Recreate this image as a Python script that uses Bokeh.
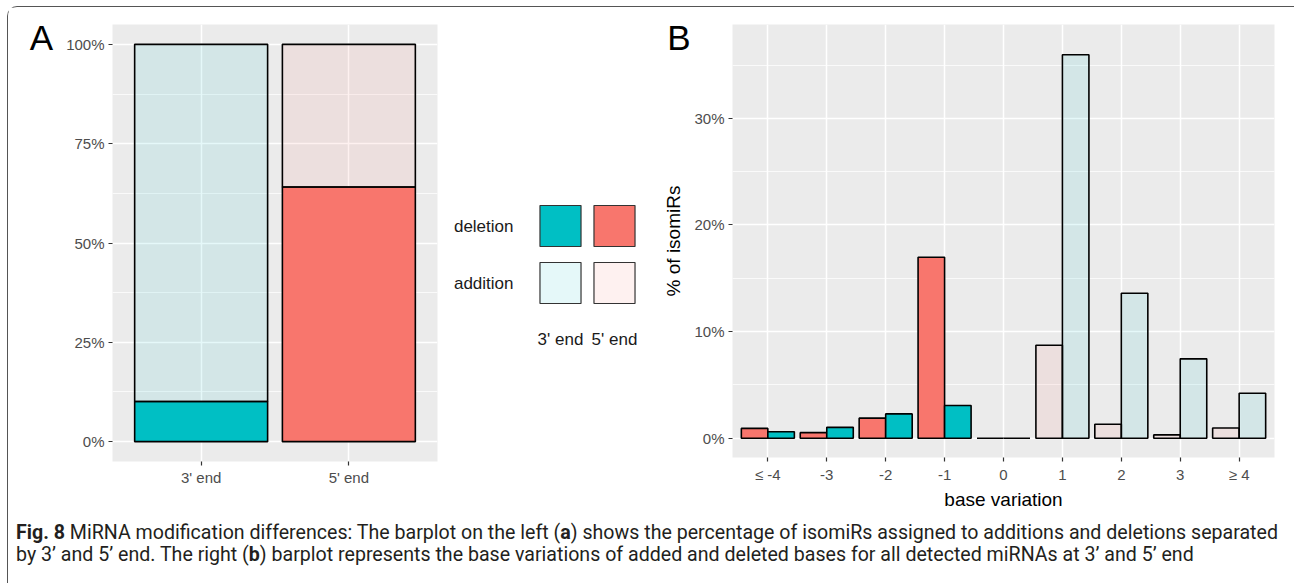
import numpy as np
from bokeh.plotting import figure
from bokeh.models import (Range1d, FixedTicker, NumeralTickFormatter, PrintfTickFormatter,
                          Div, FactorRange, LinearAxis)
from bokeh.layouts import row, column
from bokeh.embed import file_html
from bokeh.resources import INLINE

# ---------------- data ----------------
ends = ["3' end", "5' end"]
end_colors = ["#00BFC4", "#F8766D"]
deletion_pct = [10.1, 64.1]
addition_pct = [89.9, 35.9]

legend_rows = ["addition", "deletion"]

base_variation = ["≤ -4", "-3", "-2", "-1", "0", "1", "2", "3", "≥ 4"]
variation_type = ["deletion", "deletion", "deletion", "deletion", "none",
                  "addition", "addition", "addition", "addition"]
pct_5prime = [0.92, 0.52, 1.88, 16.97, 0.0, 8.72, 1.31, 0.31, 0.96]
pct_3prime = [0.60, 1.02, 2.28, 3.06, 0.0, 35.96, 13.60, 7.44, 4.22]

panel_a_ticks = [0, 0.25, 0.5, 0.75, 1.0]
panel_b_ticks = [0, 10, 20, 30]

caption_html = ('<b>Fig. 8</b> MiRNA modification differences: The barplot on the left (<b>a</b>) '
                'shows the percentage of isomiRs assigned to additions and deletions separated<br>'
                'by 3’ and 5’ end. The right (<b>b</b>) barplot represents the base variations of '
                'added and deleted bases for all detected miRNAs at 3’ and 5’ end')

FONT = "Liberation Sans"
PANEL_BG = "#EBEBEB"
TICK_COL = "#4D4D4D"
BAR_LW = 1.6


def style_axes(p, tick_size="15px"):
    for ax in p.axis:
        ax.axis_line_color = None
        ax.major_tick_line_color = "#333333"
        ax.major_tick_line_width = 1.2
        ax.major_tick_out = 4
        ax.major_tick_in = 0
        ax.minor_tick_line_color = None
        ax.major_label_text_font = FONT
        ax.major_label_text_font_size = tick_size
        ax.major_label_text_color = TICK_COL
        ax.axis_label_text_font = FONT
        ax.axis_label_text_font_style = "normal"
        ax.axis_label_text_font_size = "19px"
        ax.axis_label_text_color = "black"
    p.grid.grid_line_color = "white"
    p.grid.grid_line_width = 1.5
    p.ygrid.minor_grid_line_color = "white"
    p.ygrid.minor_grid_line_width = 0.75


def panel_letter(ax, letter, standoff):
    # leading blank line pushes the letter down from the frame top
    ax.axis_label = "\n" + letter
    ax.axis_label_orientation = "horizontal"
    ax.axis_label_text_font_size = "35px"
    ax.axis_label_text_line_height = 0.69
    ax.axis_label_standoff = standoff
    for v in ("end", "right", "top"):
        try:
            ax.axis_label_align = v
            break
        except Exception:
            pass


# ---------------- panel A ----------------
pos_a = np.arange(1, len(ends) + 1)
del_top = np.array(deletion_pct) / 100.0
add_top = (np.array(deletion_pct) + np.array(addition_pct)) / 100.0

pA = figure(output_backend="svg", toolbar_location=None, frame_align=False,
            frame_width=325, frame_height=437,
            min_border_left=104, min_border_right=9, min_border_top=17, min_border_bottom=58,
            x_range=Range1d(0.4, len(ends) + 0.6), y_range=Range1d(-0.05, 1.05),
            background_fill_color=PANEL_BG, border_fill_color="white", outline_line_color=None)
pA.vbar(x=pos_a, width=0.9, bottom=0, top=del_top, fill_color=end_colors,
        line_color="black", line_width=BAR_LW)
pA.vbar(x=pos_a, width=0.9, bottom=del_top, top=add_top, fill_color=end_colors, fill_alpha=0.1,
        line_color="black", line_width=BAR_LW)
pA.xaxis.ticker = FixedTicker(ticks=list(pos_a))
pA.xaxis.major_label_overrides = {int(i): e for i, e in zip(pos_a, ends)}
pA.yaxis.ticker = FixedTicker(ticks=panel_a_ticks,
                              minor_ticks=[0.125, 0.375, 0.625, 0.875])
pA.yaxis.formatter = NumeralTickFormatter(format="0%")
style_axes(pA)
pA.xaxis.major_label_standoff = 3
pA.yaxis.major_label_standoff = 4
panel_letter(pA.yaxis[0], "A", 10)

# ---------------- legend ----------------
pL = figure(output_backend="svg", toolbar_location=None, frame_align=False,
            frame_width=108, frame_height=114,
            min_border_left=87, min_border_right=10, min_border_top=190, min_border_bottom=40,
            x_range=FactorRange(*ends), y_range=FactorRange(*legend_rows),
            background_fill_color="white", border_fill_color="white", outline_line_color=None)
key_x = [e for r in legend_rows for e in ends]
key_y = [r for r in legend_rows for e in ends]
key_col = [c for r in legend_rows for c in end_colors]
key_alpha = [0.1 if r == "addition" else 1.0 for r in legend_rows for e in ends]
pL.rect(x=key_x, y=key_y, width=0.76, height=0.72, fill_color=key_col, fill_alpha=key_alpha,
        line_color="#333333", line_width=1.2)
pL.grid.grid_line_color = None
for ax in pL.axis:
    ax.axis_line_color = None
    ax.major_tick_line_color = None
    ax.minor_tick_line_color = None
    ax.major_label_text_font = FONT
    ax.major_label_text_font_size = "17px"
    ax.major_label_text_color = "#1a1a1a"
pL.yaxis.major_label_standoff = 14
pL.xaxis.major_label_standoff = 12

# ---------------- panel B ----------------
idx = np.arange(1, len(base_variation) + 1)
alpha_b = [1.0 if t == "deletion" else 0.1 for t in variation_type]

pB = figure(output_backend="svg", toolbar_location=None, frame_align=False,
            frame_width=542, frame_height=433,
            min_border_left=81, min_border_right=18, min_border_top=17, min_border_bottom=58,
            x_range=Range1d(0.4, len(base_variation) + 0.6), y_range=Range1d(-1.81, 38.8),
            background_fill_color=PANEL_BG, border_fill_color="white", outline_line_color=None,
            x_axis_label="base variation")
pB.vbar(x=idx - 0.225, width=0.45, bottom=0, top=pct_5prime, fill_color=end_colors[1],
        fill_alpha=alpha_b, line_color="black", line_width=BAR_LW)
pB.vbar(x=idx + 0.225, width=0.45, bottom=0, top=pct_3prime, fill_color=end_colors[0],
        fill_alpha=alpha_b, line_color="black", line_width=BAR_LW)
# outer axis carrying only the y-axis title
title_axis = LinearAxis(ticker=FixedTicker(ticks=[]), axis_label="% of isomiRs")
pB.add_layout(title_axis, "left")
pB.xaxis.ticker = FixedTicker(ticks=list(idx))
pB.xaxis.major_label_overrides = {int(i): b for i, b in zip(idx, base_variation)}
pB.yaxis[0].ticker = FixedTicker(ticks=panel_b_ticks, minor_ticks=[5, 15, 25, 35])
pB.yaxis[0].formatter = PrintfTickFormatter(format="%d%%")
style_axes(pB)
title_axis.major_tick_out = 0
title_axis.axis_label_standoff = -19
pB.xaxis.major_label_standoff = 4
pB.yaxis[0].major_label_standoff = 4
pB.xaxis.axis_label_standoff = 3
panel_letter(pB.yaxis[0], "B", 1)

# ---------------- caption ----------------
caption = Div(text=('<div style="font-family:Roboto; font-size:19.6px; line-height:22px; '
                    'color:#231f20; margin-top:-2px; padding:0 0 0 3px; white-space:nowrap;">'
                    + caption_html + '</div>'),
              width=1284, height=60)

layout = column(row(pA, pL, pB), caption,
                styles={"border": "1px solid #555555", "border-bottom": "none",
                        "border-radius": "10px 10px 0 0", "background": "white",
                        "margin": "6px 0 0 7px"})

open("out.html", "w").write(file_html(layout, INLINE))
